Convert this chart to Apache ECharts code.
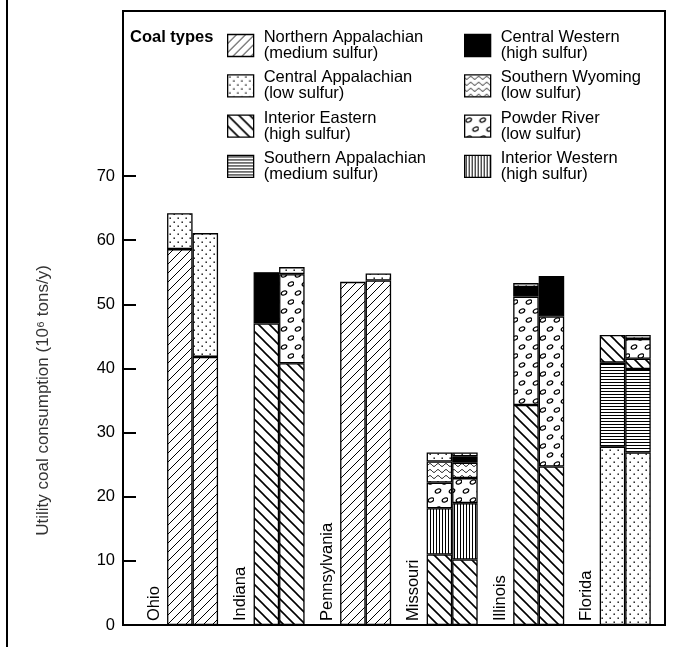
<!DOCTYPE html>
<html>
<head>
<meta charset="utf-8">
<title>Utility coal consumption by state</title>
<script src="https://cdn.jsdelivr.net/npm/echarts@6/dist/echarts.min.js"></script>
<style>
html, body { margin: 0; padding: 0; background: #fff; }
#chart { width: 685px; height: 647px; }
</style>
</head>
<body>
<div id="chart"></div>
<script>
// categories
const states = ['Ohio', 'Indiana', 'Pennsylvania', 'Missouri', 'Illinois', 'Florida']
// coal types (legend order) and their pattern keys
const coalTypes = ['Northern Appalachian', 'Central Appalachian', 'Interior Eastern', 'Southern Appalachian',
  'Central Western', 'Southern Wyoming', 'Powder River', 'Interior Western']
const sulfur = ['medium sulfur', 'low sulfur', 'high sulfur', 'medium sulfur',
  'high sulfur', 'low sulfur', 'low sulfur', 'high sulfur']
const typeKeys = ['NA', 'CA', 'IE', 'SA', 'CW', 'SW', 'PR', 'IW']

// left bar of each state: segments from bottom to top
const leftTypes = [
  ['NA', 'CA'],
  ['IE', 'CW'],
  ['NA'],
  ['IE', 'IW', 'PR', 'SW', 'CA'],
  ['IE', 'PR', 'CW', 'CA'],
  ['CA', 'SA', 'IE']
]
const leftValues = [
  [58.6, 5.6],
  [47.0, 8.0],
  [53.5],
  [11.0, 7.2, 4.0, 3.3, 1.4],
  [34.3, 16.9, 1.5, 0.6],
  [27.8, 13.1, 4.3]
]
// right bar of each state
const rightTypes = [
  ['NA', 'CA'],
  ['IE', 'PR', 'CA'],
  ['NA', 'CA'],
  ['IE', 'IW', 'PR', 'SW', 'CW', 'CA'],
  ['IE', 'PR', 'CW'],
  ['CA', 'SA', 'IE', 'PR', 'CA']
]
const rightValues = [
  [41.8, 19.3],
  [40.8, 13.9, 1.1],
  [53.7, 1.1],
  [10.2, 8.8, 3.9, 2.4, 1.0, 0.6],
  [24.7, 23.4, 6.3],
  [26.9, 13.0, 1.6, 3.1, 0.6]
]
const yTicks = [0, 10, 20, 30, 40, 50, 60, 70]

const FONT = 'Liberation Sans, Arial, Helvetica, sans-serif'

// small canvas tiles used as fill patterns
function makeTile (w, h, draw) {
  const c = document.createElement('canvas')
  c.width = w
  c.height = h
  const ctx = c.getContext('2d')
  ctx.fillStyle = '#fff'
  ctx.fillRect(0, 0, w, h)
  ctx.strokeStyle = '#000'
  ctx.fillStyle = '#000'
  draw(ctx)
  return { image: c, repeat: 'repeat' }
}

const patterns = {
  NA: makeTile(9, 9, ctx => {
    ctx.lineWidth = 1
    ctx.beginPath()
    ctx.moveTo(0, 9); ctx.lineTo(9, 0)
    ctx.moveTo(-2, 2); ctx.lineTo(2, -2)
    ctx.moveTo(7, 11); ctx.lineTo(11, 7)
    ctx.stroke()
  }),
  CA: makeTile(8, 8, ctx => {
    ctx.fillRect(1.5, 1.5, 1.4, 1.4)
    ctx.fillRect(5.5, 5.5, 1.4, 1.4)
  }),
  IE: makeTile(11, 11, ctx => {
    ctx.lineWidth = 1.6
    ctx.beginPath()
    ctx.moveTo(0, 0); ctx.lineTo(11, 11)
    ctx.moveTo(-2, 9); ctx.lineTo(2, 13)
    ctx.moveTo(9, -2); ctx.lineTo(13, 2)
    ctx.stroke()
  }),
  SA: makeTile(4, 3, ctx => {
    ctx.fillRect(0, 1, 4, 1)
  }),
  CW: '#000',
  SW: makeTile(8, 6, ctx => {
    ctx.lineWidth = 1
    ctx.beginPath()
    for (let x = 0; x <= 8; x += 0.5) {
      const y = 3 + 1.4 * Math.sin(Math.PI * 2 * x / 8)
      if (x === 0) ctx.moveTo(x, y)
      else ctx.lineTo(x, y)
    }
    ctx.stroke()
  }),
  PR: makeTile(14, 18, ctx => {
    ctx.lineWidth = 1.3
    ctx.beginPath()
    ctx.ellipse(4, 5, 2.9, 1.9, -0.4, 0, Math.PI * 2)
    ctx.stroke()
    ctx.beginPath()
    ctx.ellipse(11, 14, 2.9, 1.9, -0.4, 0, Math.PI * 2)
    ctx.stroke()
  }),
  IW: makeTile(3, 4, ctx => {
    ctx.fillRect(1, 0, 1, 4)
  })
}

// one series per layer, each segment coloured by its coal type
function layerSeries (stack, types, values) {
  const depth = Math.max(...values.map(v => v.length))
  const list = []
  for (let k = 0; k < depth; k++) {
    list.push({
      type: 'bar',
      stack: stack,
      barWidth: 25.5,
      barGap: '0%',
      silent: true,
      itemStyle: { borderColor: '#000', borderWidth: 1.3 },
      data: values.map((v, i) => v[k] == null ? '-' : {
        value: v[k],
        itemStyle: { color: patterns[types[i][k]] }
      })
    })
  }
  return list
}

const leftSeries = layerSeries('a', leftTypes, leftValues)
// state name standing beside the left bar
leftSeries[0].label = {
  show: true,
  formatter: p => p.name,
  position: [-13, '100%'],
  rotate: 90,
  align: 'left',
  verticalAlign: 'middle',
  padding: [0, 0, 0, 4],
  fontSize: 16.5,
  fontFamily: FONT,
  color: '#000'
}
const rightSeries = layerSeries('b', rightTypes, rightValues)

// empty series that only feed the legend
const legendSeries = coalTypes.map((name, i) => ({
  type: 'bar',
  name: name,
  stack: 'a',
  data: [],
  itemStyle: { color: patterns[typeKeys[i]], borderColor: '#000', borderWidth: 1.3 }
}))

const legendBase = {
  orient: 'vertical',
  top: 29,
  padding: 0,
  icon: 'rect',
  itemWidth: 26,
  itemHeight: 22,
  itemGap: 7.3,
  selectedMode: false,
  itemStyle: { borderColor: '#000', borderWidth: 1.3 },
  formatter: name => name + '\n(' + sulfur[coalTypes.indexOf(name)] + ')',
  textStyle: { fontSize: 16.5, lineHeight: 16, fontFamily: FONT, color: '#000', padding: [0, 0, 0, 5] }
}

const chart = echarts.init(document.getElementById('chart'))
chart.setOption({
  animation: false,
  backgroundColor: '#fff',
  textStyle: { fontFamily: FONT },
  title: {
    text: 'Coal types',
    left: 125,
    top: 24,
    textStyle: { fontSize: 16.5, fontWeight: 'bold', fontFamily: FONT, color: '#000' }
  },
  legend: [
    Object.assign({}, legendBase, { left: 227, data: coalTypes.slice(0, 4) }),
    Object.assign({}, legendBase, { left: 464, data: coalTypes.slice(4) })
  ],
  grid: { left: 149.3, right: 16.5, top: 176, bottom: 22 },
  xAxis: {
    type: 'category',
    data: states,
    axisLine: { show: false },
    axisTick: { show: false },
    axisLabel: { show: false }
  },
  yAxis: {
    type: 'value',
    min: yTicks[0],
    max: yTicks[yTicks.length - 1],
    interval: 10,
    offset: 25.3,
    name: 'Utility coal consumption (10\u2076 tons/y)',
    nameLocation: 'middle',
    nameGap: 72,
    nameTextStyle: { fontSize: 17, fontFamily: FONT, color: '#333' },
    axisLine: { show: false },
    axisTick: { show: true, inside: true, length: 12, lineStyle: { color: '#000', width: 2 } },
    axisLabel: { margin: 9, fontSize: 16.5, fontFamily: FONT, color: '#000' },
    splitLine: { show: false }
  },
  graphic: [
    // plot frame (also serves as the axis lines)
    {
      type: 'rect',
      z: 100,
      shape: { x: 123, y: 11, width: 542, height: 614 },
      style: { fill: 'none', stroke: '#000', lineWidth: 2 }
    },
    // outer page rule on the left
    {
      type: 'line',
      z: 100,
      shape: { x1: 7, y1: 0, x2: 7, y2: 647 },
      style: { stroke: '#000', lineWidth: 2 }
    }
  ],
  series: leftSeries.concat(rightSeries, legendSeries)
})
</script>
</body>
</html>
